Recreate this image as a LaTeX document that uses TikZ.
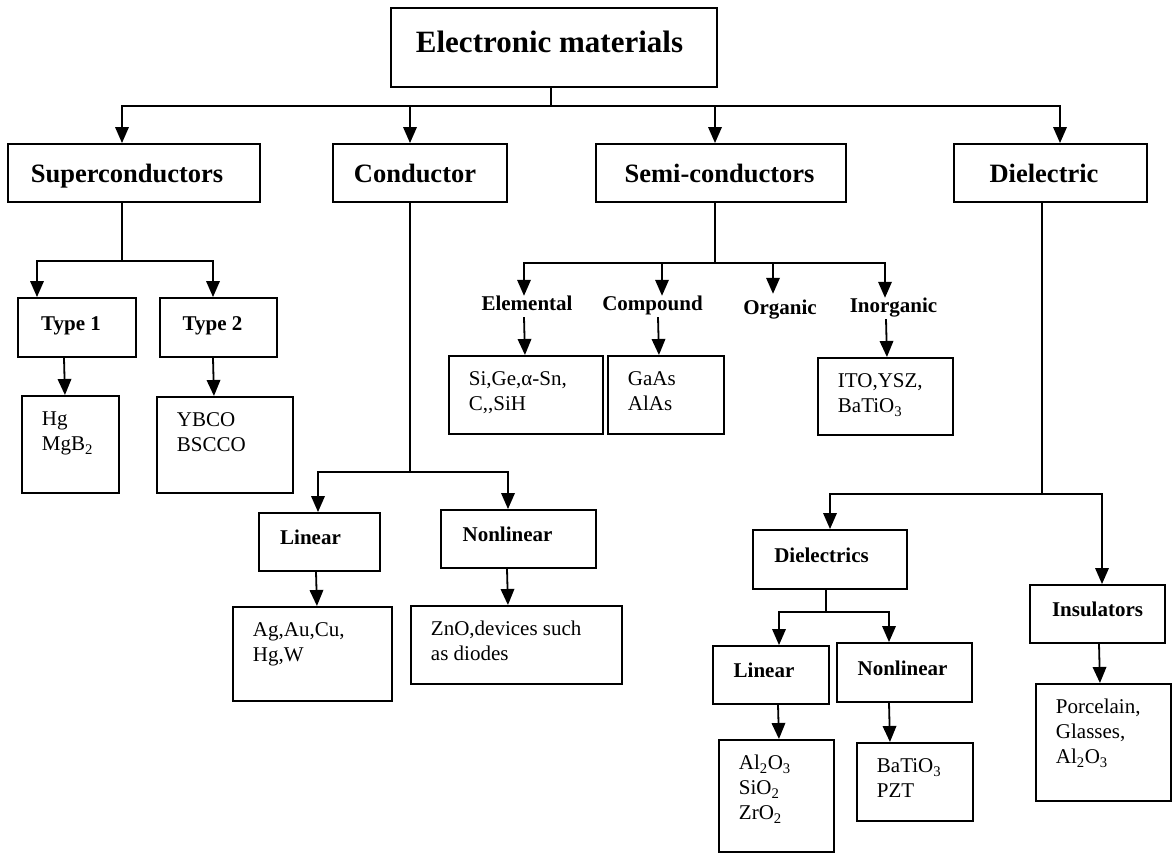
\documentclass[tikz,border=0pt]{standalone}
\usepackage{fontspec}
\setmainfont{Liberation Serif}
\usetikzlibrary{arrows.meta}
\newcommand{\cbx}[3]{\parbox[c][#2][t]{#1}{\raggedright\strut #3}}
\begin{document}
\begin{tikzpicture}[x=1pt,y=-1pt,
  line/.style={line width=1.8pt},
  arr/.style={line width=1.8pt,-{Triangle[length=16pt,width=13.5pt]}},
  lvlzero/.style={draw,line width=1.9pt,minimum width=326pt,minimum height=79pt,
    font=\fontsize{31}{36}\selectfont\bfseries,text height=21pt,text depth=12pt,inner sep=0pt},
  lvlone/.style={draw,line width=1.9pt,minimum height=58pt,
    font=\fontsize{26.5}{30}\selectfont\bfseries,text height=18pt,text depth=0pt,inner sep=0pt},
  lvltwo/.style={draw,line width=1.9pt,
    font=\fontsize{21}{25}\selectfont\bfseries,text height=14pt,text depth=9pt,inner sep=0pt},
  lbl/.style={font=\fontsize{21}{25}\selectfont\bfseries,text height=14pt,text depth=7pt,inner sep=0pt,anchor=base},
  cont/.style={draw,line width=1.9pt,anchor=north west,inner xsep=20pt,inner ysep=12.5pt,
    font=\fontsize{21}{25}\selectfont}]
\fill[white] (0,0) rectangle (1174,854);
\useasboundingbox (0,0) rectangle (1174,854);

% root
\node[lvlzero] (root) at (554,47.5) {Electronic materials\hspace*{9pt}};

% level one
\node[lvlone,minimum width=252pt] (sup) at (134,173) {Superconductors\hspace*{14pt}};
\node[lvlone,minimum width=174pt] (con) at (420,173) {Conductor\hspace*{10pt}};
\node[lvlone,minimum width=250pt] (semi) at (721,173) {Semi-conductors\hspace*{3pt}};
\node[lvlone,minimum width=193pt] (diel) at (1050.5,173) {Dielectric\hspace*{13pt}};

% level two boxes
\node[lvltwo,minimum width=118pt,minimum height=59pt] (t1) at (77,327.5) {Type 1\hspace*{12pt}};
\node[lvltwo,minimum width=117pt,minimum height=59pt] (t2) at (218.5,327.5) {Type 2\hspace*{12pt}};
\node[lvltwo,minimum width=121pt,minimum height=58pt] (lin) at (319.5,542) {Linear\hspace*{18pt}};
\node[lvltwo,minimum width=155pt,minimum height=58pt] (nlin) at (518.5,539) {Nonlinear\hspace*{22pt}};
\node[lvltwo,minimum width=154pt,minimum height=59pt] (dies) at (830,559.5) {Dielectrics\hspace*{17pt}};
\node[lvltwo,minimum width=135pt,minimum height=58pt] (ins) at (1097.5,614) {Insulators};
\node[lvltwo,minimum width=116pt,minimum height=58pt] (lintwo) at (771,675) {Linear\hspace*{14pt}};
\node[lvltwo,minimum width=135pt,minimum height=59pt] (nlintwo) at (904.5,672.5) {Nonlinear\hspace*{4pt}};

% semiconductor labels
\node[lbl] (ele) at (527,310) {Elemental};
\node[lbl] (com) at (652.5,310) {Compound};
\node[lbl] (org) at (780,314) {Organic};
\node[lbl] (ino) at (893.5,312) {Inorganic};

% content boxes
\node[cont] (hg) at (21,395) {\cbx{57pt}{72pt}{Hg\\MgB\textsubscript{2}}};
\node[cont] (yb) at (156,396) {\cbx{96pt}{71pt}{YBCO\\BSCCO}};
\node[cont] (si) at (448,355) {\cbx{114pt}{53pt}{Si,Ge,α-Sn,\\C,{},SiH}};
\node[cont] (ga) at (607,355) {\cbx{76pt}{53pt}{GaAs\\AlAs}};
\node[cont] (ito) at (817,357) {\cbx{95pt}{52pt}{ITO,YSZ,\\BaTiO\textsubscript{3}}};
\node[cont] (ag) at (232,606) {\cbx{119pt}{69pt}{Ag,Au,Cu,\\Hg,W}};
\node[cont] (zno) at (410,605) {\cbx{171pt}{53pt}{ZnO,devices such\\as diodes}};
\node[cont] (al) at (718,739) {\cbx{75pt}{87pt}{Al\textsubscript{2}O\textsubscript{3}\\SiO\textsubscript{2}\\ZrO\textsubscript{2}}};
\node[cont] (ba) at (856,742) {\cbx{76pt}{53pt}{BaTiO\textsubscript{3}\\PZT}};
\node[cont] (por) at (1035,683) {\cbx{95pt}{92pt}{Porcelain,\\Glasses,\\Al\textsubscript{2}O\textsubscript{3}}};

% root connectors
\draw[line] ([xshift=-3pt]root.south) -- ++(0,18) coordinate (rb);
\draw[arr] (rb) -| ([xshift=-12pt]sup.north);
\draw[arr] (rb) -| ([xshift=-10pt]con.north);
\draw[arr] (rb) -| ([xshift=-6pt]semi.north);
\draw[arr] (rb) -| ([xshift=9.5pt]diel.north);

% superconductors
\draw[line] ([xshift=-12pt]sup.south) -- ++(0,58) coordinate (sb);
\draw[arr] (sb) -| ([xshift=-40pt]t1.north);
\draw[arr] (sb) -| ([xshift=-5.5pt]t2.north);
\draw[arr] ([xshift=-13pt]t1.south) -- ([xshift=-5.5pt]hg.north);
\draw[arr] ([xshift=-5.5pt]t2.south) -- ([xshift=-11pt]yb.north);

% conductor
\draw[line] ([xshift=-10pt]con.south) -- ++(0,269) coordinate (cb);
\draw[arr] (cb) -| ([xshift=-1.5pt]lin.north);
\draw[arr] (cb) -| ([xshift=-10.5pt]nlin.north);
\draw[arr] ([xshift=-3.5pt]lin.south) -- ([xshift=4.5pt]ag.north);
\draw[arr] ([xshift=-11.5pt]nlin.south) -- ([xshift=-8.5pt]zno.north);

% semiconductors
\draw[line] ([xshift=-6pt]semi.south) -- ++(0,60) coordinate (smb);
\draw[arr] (smb) -| ([xshift=-3pt]ele.north);
\draw[arr] (smb) -| ([xshift=9.5pt]com.north);
\draw[arr] (smb) -| ([xshift=-7pt,yshift=6pt]org.north);
\draw[arr] (smb) -| ([xshift=-8.5pt]ino.north);
\draw[arr] ([xshift=-3pt]ele.south) -- ([xshift=-1pt]si.north);
\draw[arr] ([xshift=5.5pt]com.south) -- ([xshift=-7pt]ga.north);
\draw[arr] ([xshift=-7.5pt]ino.south) -- ([xshift=1.5pt]ito.north);

% dielectric
\draw[line] ([xshift=-8.5pt]diel.south) -- ++(0,291) coordinate (db);
\draw[arr] (db) -| (dies.north);
\draw[arr] (db) -| ([xshift=4.5pt]ins.north);
\draw[line] ([xshift=-4pt]dies.south) -- ++(0,22) coordinate (dsb);
\draw[arr] (dsb) -| ([xshift=8pt]lintwo.north);
\draw[arr] (dsb) -| ([xshift=-15.5pt]nlintwo.north);
\draw[arr] ([xshift=7pt]lintwo.south) -- ([xshift=2.5pt]al.north);
\draw[arr] ([xshift=-15.5pt]nlintwo.south) -- ([xshift=-25pt]ba.north);
\draw[arr] ([xshift=1.5pt]ins.south) -- ([xshift=-3.5pt]por.north);
\end{tikzpicture}
\end{document}
